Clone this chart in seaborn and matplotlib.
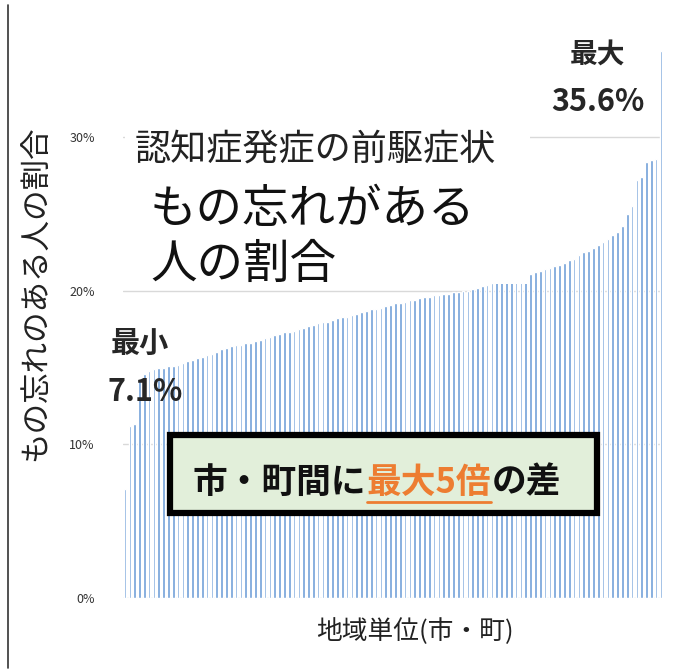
import matplotlib
matplotlib.use("Agg")
import matplotlib.pyplot as plt
import seaborn as sns
import numpy as np
import pandas as pd
from matplotlib.patches import Rectangle
from matplotlib.lines import Line2D

# ---- data, sorted ascending, % ----
rates = [7.1, 11.2, 11.3, 14.2, 14.6, 14.8, 14.9, 15.0, 15.0, 15.1,
         15.1, 15.2, 15.3, 15.4, 15.5, 15.6, 15.7, 15.8, 15.9, 16.0,
         16.2, 16.3, 16.4, 16.5, 16.5, 16.6, 16.6, 16.7, 16.8, 16.9,
         17.0, 17.1, 17.2, 17.3, 17.3, 17.4, 17.5, 17.6, 17.7, 17.8,
         17.9, 18.0, 18.0, 18.1, 18.2, 18.3, 18.3, 18.4, 18.5, 18.6,
         18.7, 18.8, 18.8, 18.9, 19.0, 19.1, 19.2, 19.2, 19.3, 19.4,
         19.4, 19.5, 19.6, 19.6, 19.7, 19.7, 19.8, 19.8, 19.9, 19.9,
         20.0, 20.0, 20.1, 20.2, 20.3, 20.4, 20.5, 20.6, 20.7, 20.7,
         20.8, 20.9, 21.0, 21.0, 21.1, 21.2, 21.3, 21.4, 21.5, 21.6,
         21.7, 21.8, 22.0, 22.1, 22.3, 22.5, 22.6, 22.8, 23.0, 23.2,
         23.4, 23.6, 23.8, 24.2, 25.0, 25.5, 27.2, 27.4, 28.4, 28.5,
         28.6, 35.6]
areas = [f"地域{i+1}" for i in range(len(rates))]
yticks = [0, 10, 20, 30]
ytick_labels = ["0%", "10%", "20%", "30%"]

W, H = 673, 670
sns.set_theme(style="white")
plt.rcParams['font.family'] = ['Noto Sans CJK JP', 'DejaVu Sans']

fig = plt.figure(figsize=(W / 100, H / 100), dpi=100)
ax = fig.add_axes([122.6 / W, 1 - 598 / H, (663.4 - 122.6) / W, (598 - 45) / H])

df = pd.DataFrame({"area": areas, "rate": rates})
for y in yticks:
    ax.axhline(y, color="#d9d9d9", lw=1.0, zorder=0)
sns.barplot(data=df, x="area", y="rate", color="#6F9FD8", saturation=1,
            width=0.55, ax=ax, zorder=2)
ax.set_xlim(-0.5, len(rates) - 0.5)
ax.set_ylim(0, 36)
ax.set_yticks(yticks)
ax.set_yticklabels(ytick_labels, fontsize=9, color="#333333")
ax.tick_params(axis="y", length=0, pad=20)
ax.set_xticks([])
ax.set_xlabel("")
ax.set_ylabel("")
for s in ax.spines.values():
    s.set_visible(False)

def px(x, y):
    return x / W, 1 - y / H

# white box behind title text (hides the 30% gridline there)
fig.patches.append(Rectangle(px(125, 284), (530 - 125) / W, (284 - 118) / H,
                             transform=fig.transFigure, facecolor="white",
                             edgecolor="none", zorder=3))
fig.text(*px(315, 150), "認知症発症の前駆症状", fontsize=26, ha="center", va="center",
         color="#222222", zorder=4)
fig.text(*px(150, 210), "もの忘れがある", fontsize=33.5, ha="left", va="center",
         color="#111111", zorder=4)
fig.text(*px(150, 265), "人の割合", fontsize=33.5, ha="left", va="center",
         color="#111111", zorder=4)

# max / min labels
fig.text(*px(598, 55), "最大", fontsize=20, fontweight="bold", ha="center", va="center", zorder=4)
fig.text(*px(598, 102), "35.6%", fontsize=22, fontweight="bold", ha="center", va="center", zorder=4)
fig.text(*px(140, 343), "最小", fontsize=21, fontweight="bold", ha="center", va="center", zorder=4)
fig.text(*px(145, 392), "7.1%", fontsize=22, fontweight="bold", ha="center", va="center", zorder=4)

# highlight box
fig.patches.append(Rectangle(px(170, 513), (597 - 170) / W, (513 - 435) / H,
                             transform=fig.transFigure, facecolor="#E2EFDA",
                             edgecolor="black", lw=4.5, zorder=5))
t1 = fig.text(*px(193, 482), "市・町間に", fontsize=25, fontweight="bold",
              ha="left", va="center", color="#111111", zorder=6)
fig.canvas.draw()
r = fig.canvas.get_renderer()
bb = t1.get_window_extent(r)
x1 = bb.x1 / W
t2 = fig.text(x1, 1 - 482 / H, "最大5倍", fontsize=25, fontweight="bold",
              ha="left", va="center", color="#ED7D31", zorder=6)
bb2 = t2.get_window_extent(r)
fig.lines.append(Line2D([bb2.x0 / W, bb2.x1 / W], [1 - 502 / H, 1 - 502 / H],
                        transform=fig.transFigure, color="#ED7D31", lw=2, zorder=6))
fig.text(bb2.x1 / W, 1 - 482 / H, "の差", fontsize=25, fontweight="bold",
         ha="left", va="center", color="#111111", zorder=6)

# axis labels
fig.text(*px(37, 293), "もの忘れのある人の割合", fontsize=22, rotation=90,
         ha="center", va="center", color="#222222")
fig.text(*px(415, 632), "地域単位(市・町)", fontsize=18.5, ha="center", va="center",
         color="#222222")

# frame line on the left
fig.lines.append(Line2D([8 / W, 8 / W], [1 - 5 / H, 1 - 668 / H],
                        transform=fig.transFigure, color="#333333", lw=1.2))

fig.savefig("out.png", dpi=100, facecolor="white")
